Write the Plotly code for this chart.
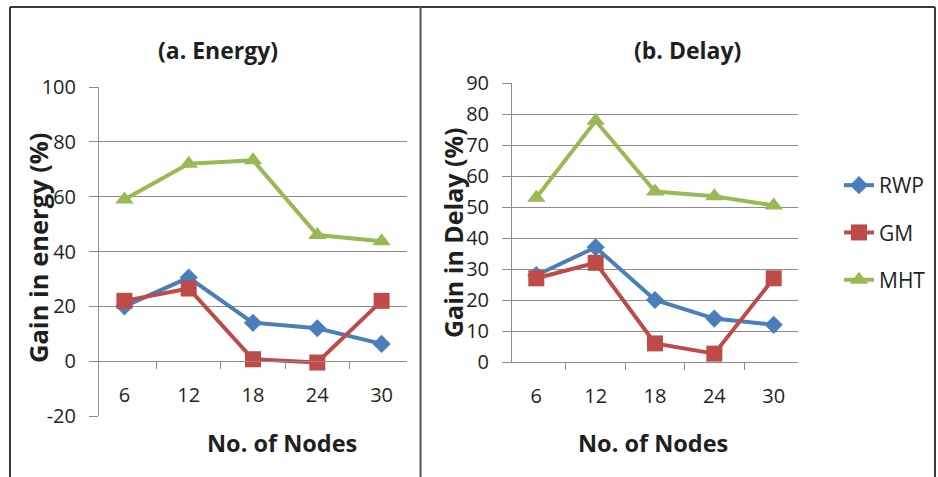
import plotly.graph_objects as go

nodes = ["6", "12", "18", "24", "30"]
series_names = ["RWP", "GM", "MHT"]

energy_rwp = [20, 30.5, 14, 12, 6.3]
energy_gm = [22, 26.5, 0.7, -0.5, 22]
energy_mht = [59, 72, 73.3, 46, 43.7]

delay_rwp = [28, 37, 20, 14, 12]
delay_gm = [27, 32, 6, 2.7, 27]
delay_mht = [53, 77.8, 55, 53.5, 50.5]

energy_ticks = [-20, 0, 20, 40, 60, 80, 100]
delay_ticks = [0, 10, 20, 30, 40, 50, 60, 70, 80, 90]

colors = {"RWP": "#4A7EBB", "GM": "#BE4B48", "MHT": "#98B954"}
symbols = {"RWP": "diamond", "GM": "square", "MHT": "triangle-up"}
msize = {"RWP": 14, "GM": 16, "MHT": 16}

W, H = 938, 477
FONT = "Open Sans"
GRID = "#8c8c8c"
TXT = "#1f1f1f"

fig = go.Figure()

energy = {"RWP": energy_rwp, "GM": energy_gm, "MHT": energy_mht}
delay = {"RWP": delay_rwp, "GM": delay_gm, "MHT": delay_mht}

for name in series_names:
    fig.add_trace(go.Scatter(
        x=nodes, y=energy[name], mode="lines+markers", name=name,
        line=dict(color=colors[name], width=4),
        marker=dict(symbol=symbols[name], size=msize[name], color=colors[name]),
        xaxis="x", yaxis="y", showlegend=False, legendgroup=name))
for name in series_names:
    fig.add_trace(go.Scatter(
        x=nodes, y=delay[name], mode="lines+markers", name=name,
        line=dict(color=colors[name], width=4),
        marker=dict(symbol=symbols[name], size=msize[name], color=colors[name]),
        xaxis="x2", yaxis="y2", showlegend=True, legendgroup=name))

def px_x(p):
    return p / W

def px_y(p):
    return 1 - p / H

# left panel geometry (pixels)
L_x0, L_x1 = 99, 407
L_ytop, L_ybot = 87, 416   # 100 and -20
L_zero = 361
# right panel geometry
R_x0, R_x1 = 512, 798
R_ytop, R_ybot = 83, 362   # 90 and 0

tickfont = dict(family=FONT, size=20, color=TXT)

common_x = dict(type="category", tickson="boundaries", ticks="outside", ticklen=7,
                tickcolor=GRID, showline=True, linecolor=GRID, linewidth=1,
                showgrid=False, tickfont=tickfont, ticklabelstandoff=16,
                categoryorder="array", categoryarray=nodes, automargin=False)
common_y = dict(showline=True, linecolor=GRID, linewidth=1, ticks="outside",
                ticklen=9, tickcolor=GRID, showgrid=True, gridcolor=GRID,
                gridwidth=1, zeroline=False, tickfont=tickfont,
                ticklabelstandoff=9, automargin=False)

fig.update_layout(
    width=W, height=H, autosize=False,
    margin=dict(l=0, r=0, t=0, b=0, pad=0),
    paper_bgcolor="white", plot_bgcolor="white",
    font=dict(family=FONT, color=TXT),
    xaxis=dict(domain=[px_x(L_x0), px_x(L_x1)], anchor="free",
               position=px_y(L_zero), **common_x),
    yaxis=dict(domain=[px_y(L_ybot), px_y(L_ytop)], anchor="x",
               range=[-20, 100], tickvals=energy_ticks,
               ticktext=[str(v) for v in energy_ticks], **common_y),
    xaxis2=dict(domain=[px_x(R_x0), px_x(R_x1)], anchor="y2", **common_x),
    yaxis2=dict(domain=[px_y(R_ybot), px_y(R_ytop)], anchor="x2",
                range=[0, 90], tickvals=delay_ticks,
                ticktext=[str(v) for v in delay_ticks], **common_y),
    legend=dict(x=px_x(839), y=px_y(165), xanchor="left", yanchor="top",
                font=dict(family=FONT, size=21, color=TXT),
                tracegroupgap=17, bgcolor="rgba(0,0,0,0)"),
    showlegend=True,
)

ann = [
    dict(text="<b>(a. Energy)</b>", x=px_x(218), y=px_y(50), size=23),
    dict(text="<b>(b. Delay)</b>", x=px_x(687), y=px_y(50), size=23),
    dict(text="<b>No. of Nodes</b>", x=px_x(282), y=px_y(443), size=23.5),
    dict(text="<b>No. of Nodes</b>", x=px_x(653), y=px_y(443), size=23.5),
]
for a in ann:
    fig.add_annotation(text=a["text"], x=a["x"], y=a["y"], xref="paper", yref="paper",
                       showarrow=False, xanchor="center", yanchor="middle",
                       font=dict(family=FONT, size=a["size"], color=TXT))
fig.add_annotation(text="<b>Gain in energy (%)</b>", x=px_x(38), y=px_y(248),
                   xref="paper", yref="paper", showarrow=False, textangle=-90,
                   xanchor="center", yanchor="middle",
                   font=dict(family=FONT, size=25.5, color=TXT))
fig.add_annotation(text="<b>Gain in Delay (%)</b>", x=px_x(453), y=px_y(233),
                   xref="paper", yref="paper", showarrow=False, textangle=-90,
                   xanchor="center", yanchor="middle",
                   font=dict(family=FONT, size=25, color=TXT))

# panel frames
frame = dict(color="#3a3a3a", width=2)
fig.add_shape(type="line", xref="paper", yref="paper", x0=px_x(10), x1=px_x(10),
              y0=0, y1=px_y(7), line=frame)
fig.add_shape(type="line", xref="paper", yref="paper", x0=px_x(10), x1=px_x(935),
              y0=px_y(7), y1=px_y(7), line=frame)
fig.add_shape(type="line", xref="paper", yref="paper", x0=px_x(420.5), x1=px_x(420.5),
              y0=0, y1=px_y(7), line=dict(color="#555555", width=2))
fig.add_shape(type="line", xref="paper", yref="paper", x0=px_x(935), x1=px_x(935),
              y0=0, y1=px_y(7), line=frame)

fig.write_html("out.html",
               config={"displayModeBar": False},
               post_script="document.body.style.margin='0';document.body.style.overflow='hidden';")
